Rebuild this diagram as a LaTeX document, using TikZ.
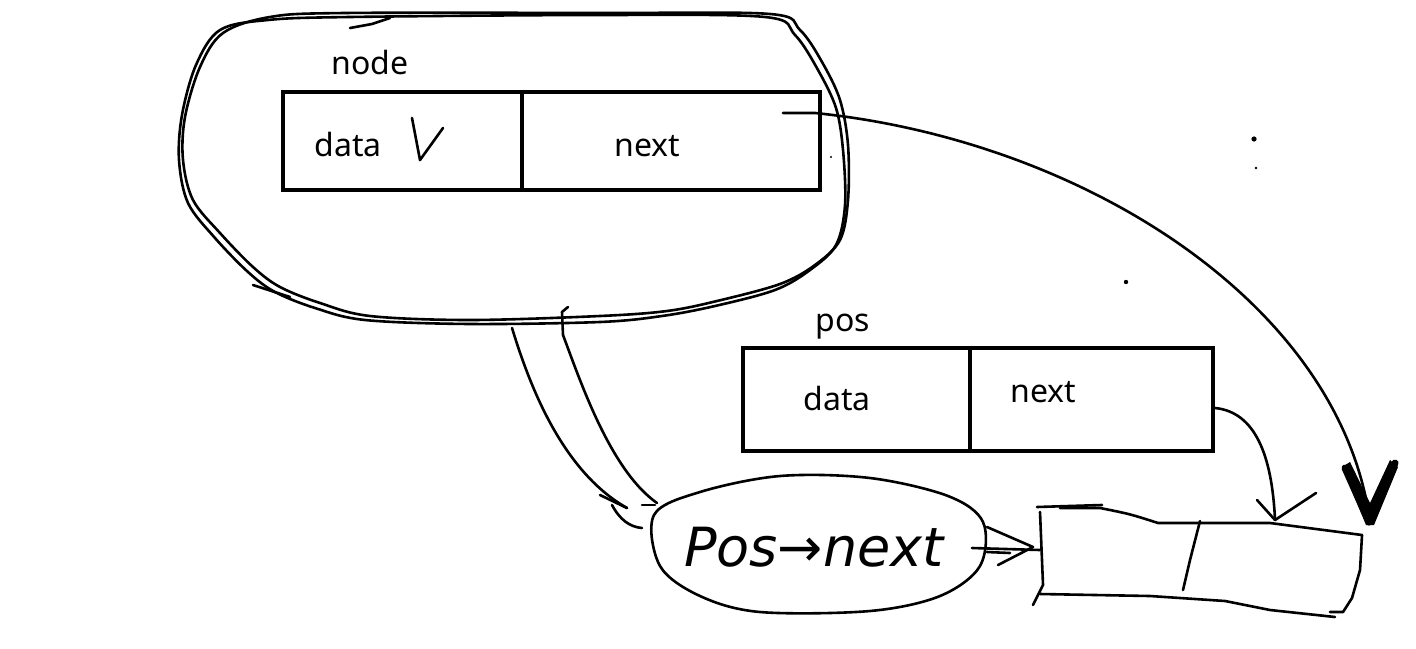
\documentclass[tikz,border=0pt]{standalone}
\usepackage{fontspec}
\setmainfont{Noto Sans}
\newfontfamily\handfont{DejaVu Sans}
\usetikzlibrary{arrows.meta}
\begin{document}
\begin{tikzpicture}[x=0.5pt,y=-0.5pt,
  cell/.style={draw, line width=2pt, inner sep=0pt, anchor=north west},
  lbl/.style={font=\fontsize{16}{18}\selectfont, inner sep=0pt, anchor=base west},
  pen/.style={line width=1.3pt, line cap=round, line join=round},
  scribble/.style={line width=3.5pt, line cap=round, line join=round}
]
\useasboundingbox[fill=white] (0,0) rectangle (1416,648);

% big hand-drawn blob around "node" (double outline)
\draw[pen] plot[smooth cycle, tension=0.55] coordinates {
  (345,13) (600,13) (770,14) (800,30) (822,62) (840,100) (848,145) (848,200)
  (840,240) (815,265) (780,284) (717,301) (667,311) (600,316) (470,320)
  (370,316) (320,303) (280,287) (253,267) (220,233) (193,200) (183,160)
  (185,117) (200,67) (223,33) (270,17)};
\draw[pen] plot[smooth cycle, tension=0.55] coordinates {
  (350,17) (600,15) (765,17) (795,35) (818,70) (836,108) (843,150) (845,205)
  (836,245) (810,270) (775,290) (715,306) (662,316) (600,322) (470,324)
  (365,320) (315,308) (275,292) (248,272) (215,238) (188,203) (179,160)
  (182,115) (196,65) (220,30) (268,20)};
\draw[pen] (253,285) -- (290,297);
\draw[pen] (350,28) -- (372,24) -- (390,18);

% node box
\node[cell, minimum width=119.5pt, minimum height=49pt] (ndata) at (281,90) {};
\node[cell, minimum width=149pt, minimum height=49pt] (nnext) at (520,90) {};
\node[lbl] (tnode) at (331,74) {node};
\node[lbl] (tndata) at (314,156) {data};
\node[lbl] (tnnext) at (614,156) {next};
% hand mark V
\draw[pen] (412,118) -- (420,160) -- (443,128);

% pos box
\node[cell, minimum width=113.5pt, minimum height=51.5pt] (pdata) at (741,346) {};
\node[cell, minimum width=121.5pt, minimum height=51.5pt] (pnext) at (968,346) {};
\node[lbl] (tpos) at (815,331) {pos};
\node[lbl] (tpdata) at (803,410) {data};
\node[lbl] (tpnext) at (1010,402) {next};

% pointer of node.next to the new node
\coordinate (nptr) at (783,113);
\coordinate (ntip) at (1369,515);
\draw[pen] (nptr) -- (815,113) .. controls (1080,140) and (1335,300) .. (ntip);
\fill (1342,467) -- (1350,462) -- (1370,503) -- (1390,460) -- (1398,467)
  -- (1374,525) -- (1366,525) -- cycle;
\draw[scribble] (1345,468) -- (1369,522) -- (1395,463);

% pointer of pos.next to the new node
\coordinate (pptr) at (1215,408);
\coordinate (ptip) at (1275,520);
\draw[pen] (pptr) .. controls (1255,412) and (1272,455) .. (ptip);
\draw[pen] (1257,500) -- (ptip) -- (1316,493);

% new node (hand drawn rectangle)
\coordinate (bwest) at (1040,550);
\draw[pen] (1037,507) -- (1102,505);
\draw[pen] (1060,508) -- (1100,508) .. controls (1130,514) .. (1158,523) -- (1270,523) -- (1362,535);
\draw[pen] (1040,512) -- (1043,585) -- (1033,605);
\draw[pen] (1040,594) -- (1150,596) -- (1225,601) -- (1270,610) -- (1335,617);
\draw[pen] (1362,535) -- (1360,570) -- (1352,598) -- (1343,612) -- (1330,612);
\draw[pen] (1200,521) -- (1190,560) -- (1183,590);

% ellipse with Pos->next
\draw[pen] plot[smooth cycle, tension=0.55] coordinates {
  (654,515) (700,492) (780,476) (870,478) (948,496) (983,522) (980,566)
  (940,596) (870,611) (760,612) (700,596) (660,566)};
\node[inner sep=0pt, font=\handfont\itshape\fontsize{27}{30}\selectfont] (ptext) at (814,547) {Pos→next};
\coordinate (eeast) at (972,548);

% arrow from Pos->next to the new node
\draw[pen] (eeast) -- (bwest);
\draw[pen] (987,527) -- (1033,547) -- (998,565);
\draw[pen] (987,552) -- (1010,553);

% two strokes from node blob down to the ellipse
\coordinate (bl1) at (512,328);
\coordinate (bl2) at (568,307);
\draw[pen] (bl1) .. controls (528,380) and (560,470) .. (627,508);
\draw[pen] (600,495) -- (627,508);
\draw[pen] (612,505) .. controls (620,520) and (630,527) .. (642,528);
\draw[pen] (bl2) -- (562,312) -- (563,335) .. controls (580,380) and (610,470) .. (657,503);
\draw[pen] (642,505) -- (655,505);

% stray dots
\fill (1254,139) circle (1.3pt);
\fill (1256,168) circle (0.7pt);
\fill (1126,282) circle (1.1pt);
\fill (831,157) circle (0.6pt);
\end{tikzpicture}
\end{document}
